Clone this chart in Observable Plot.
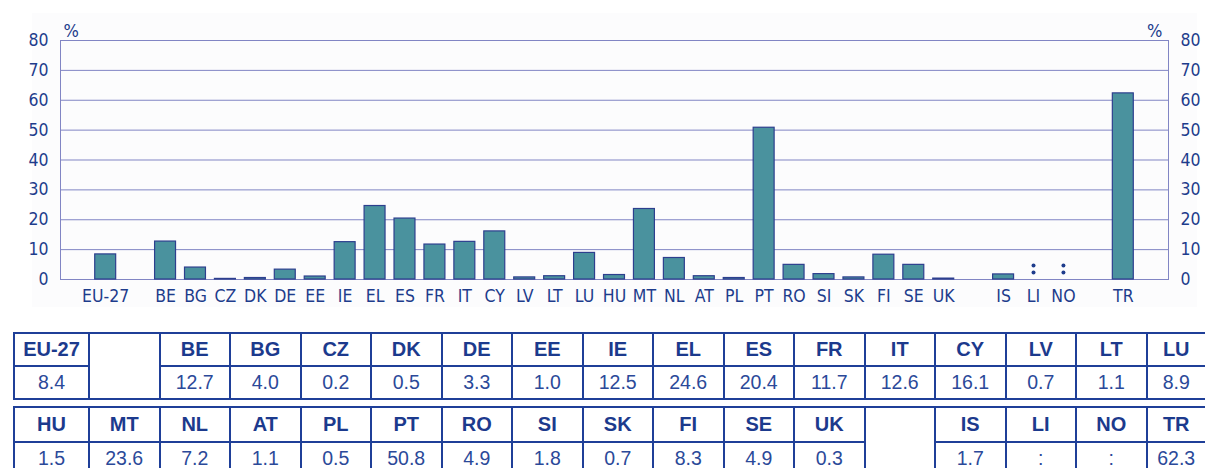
<!DOCTYPE html>
<html>
<head>
<meta charset="utf-8">
<script src="https://cdn.jsdelivr.net/npm/d3@7"></script>
<script src="https://cdn.jsdelivr.net/npm/@observablehq/plot@0.6"></script>
<style>
  html, body { margin: 0; padding: 0; background: #ffffff; width: 1205px; height: 468px; overflow: hidden; position: relative; }
  #bg { position: absolute; left: 32px; top: 13px; width: 1165px; height: 294px; background: #fcfcfd; }
  #chart { position: absolute; left: 0; top: 0; }
  table.vals { position: absolute; left: 13px; border-collapse: collapse; table-layout: fixed; width: 1192px;
    font-family: "Liberation Sans", Arial, sans-serif; }
  table.vals td { border: 2px solid #1f3f98; padding: 0; text-align: center; vertical-align: middle; overflow: hidden; white-space: nowrap; }
  table.vals td.h { font-weight: bold; font-size: 20px; color: #1c3a8d; }
  table.vals td.v { font-size: 19.5px; color: #2b4999; }
  #t1 { top: 332px; }
  #t1 tr { height: 33px; }
  #t2 { top: 406px; }
  #t2 tr { height: 34.5px; }
</style>
</head>
<body>
<div id="bg"></div>
<div id="chart"></div>
<table class="vals" id="t1"></table>
<table class="vals" id="t2"></table>
<script>
// ---- data ----
const euAggregate = ["EU-27"];
const memberStates = ["BE","BG","CZ","DK","DE","EE","IE","EL","ES","FR","IT","CY","LV","LT","LU",
  "HU","MT","NL","AT","PL","PT","RO","SI","SK","FI","SE","UK"];
const eftaCountries = ["IS","LI","NO"];
const candidateCountries = ["TR"];

const countries = [...euAggregate, ...memberStates, ...eftaCountries, ...candidateCountries];
const shares = [8.4,
  12.7, 4.0, 0.2, 0.5, 3.3, 1.0, 12.5, 24.6, 20.4, 11.7, 12.6, 16.1, 0.7, 1.1, 8.9,
  1.5, 23.6, 7.2, 1.1, 0.5, 50.8, 4.9, 1.8, 0.7, 8.3, 4.9, 0.3,
  1.7, null, null,
  62.3];

const yTicks = [0, 10, 20, 30, 40, 50, 60, 70, 80];

// table layout (country codes per row, null = empty cell)
const tableRow1 = ["EU-27", null, "BE","BG","CZ","DK","DE","EE","IE","EL","ES","FR","IT","CY","LV","LT","LU"];
const tableRow2 = ["HU","MT","NL","AT","PL","PT","RO","SI","SK","FI","SE","UK", null, "IS","LI","NO","TR"];

// ---- build ----
const navy = "#1e3c8c";
const gridColor = "#8185c4";
const data = countries.map((c, i) => ({country: c, value: shares[i]}));
const present = data.filter(d => d.value != null);
const missing = data.filter(d => d.value == null);

// empty slots between groups
const xDomain = [...euAggregate, "", ...memberStates, " ", ...eftaCountries, "  ", ...candidateCountries];

const chart = Plot.plot({
  width: 1205,
  height: 320,
  marginTop: 40,
  marginBottom: 41,
  marginLeft: 60,
  marginRight: 37,
  style: {
    background: "transparent",
    fontFamily: "'Liberation Sans Narrow', 'DejaVu Sans Condensed', 'Arial Narrow', sans-serif",
    fontSize: "17.5px",
    color: navy
  },
  x: {domain: xDomain, paddingInner: 0.3, paddingOuter: 1.16, align: 0.5, round: false,
      label: null, tickSize: 0, tickPadding: 10},
  y: {domain: [0, 80], ticks: yTicks, axis: "both", label: null, tickSize: 0, tickPadding: 12},
  marks: [
    Plot.ruleY(yTicks, {stroke: gridColor, strokeWidth: 1}),
    Plot.frame({stroke: gridColor, strokeWidth: 1}),
    Plot.barY(present, {x: "country", y: "value", fill: "#4a929e", stroke: "#2d3f8e", strokeWidth: 1.2}),
    Plot.dot(missing, {x: "country", y: () => 0, r: 2, fill: navy, stroke: null, dy: -7}),
    Plot.dot(missing, {x: "country", y: () => 0, r: 2, fill: navy, stroke: null, dy: -14}),
    Plot.text(["%"], {text: d => d, frameAnchor: "top-left", textAnchor: "start", dx: 3, dy: -16, fontSize: 18, fill: navy}),
    Plot.text(["%"], {text: d => d, frameAnchor: "top-right", textAnchor: "end", dx: -6, dy: -16, fontSize: 18, fill: navy})
  ]
});
document.getElementById("chart").appendChild(chart);

// tables
const lookup = new Map(data.map(d => [d.country, d.value]));
const colWidths = [75, ...Array(15).fill(70.5), 59.5];
function buildTable(id, row) {
  const t = document.getElementById(id);
  const cg = document.createElement("colgroup");
  colWidths.forEach(w => { const c = document.createElement("col"); c.style.width = w + "px"; cg.appendChild(c); });
  t.appendChild(cg);
  const tr1 = document.createElement("tr");
  const tr2 = document.createElement("tr");
  row.forEach(code => {
    if (code == null) {
      const td = document.createElement("td");
      td.rowSpan = 2;
      tr1.appendChild(td);
    } else {
      const th = document.createElement("td");
      th.className = "h"; th.textContent = code; tr1.appendChild(th);
      const td = document.createElement("td");
      td.className = "v";
      const v = lookup.get(code);
      td.textContent = v == null ? ":" : v.toFixed(1);
      tr2.appendChild(td);
    }
  });
  t.appendChild(tr1); t.appendChild(tr2);
}
buildTable("t1", tableRow1);
buildTable("t2", tableRow2);
</script>
</body>
</html>
